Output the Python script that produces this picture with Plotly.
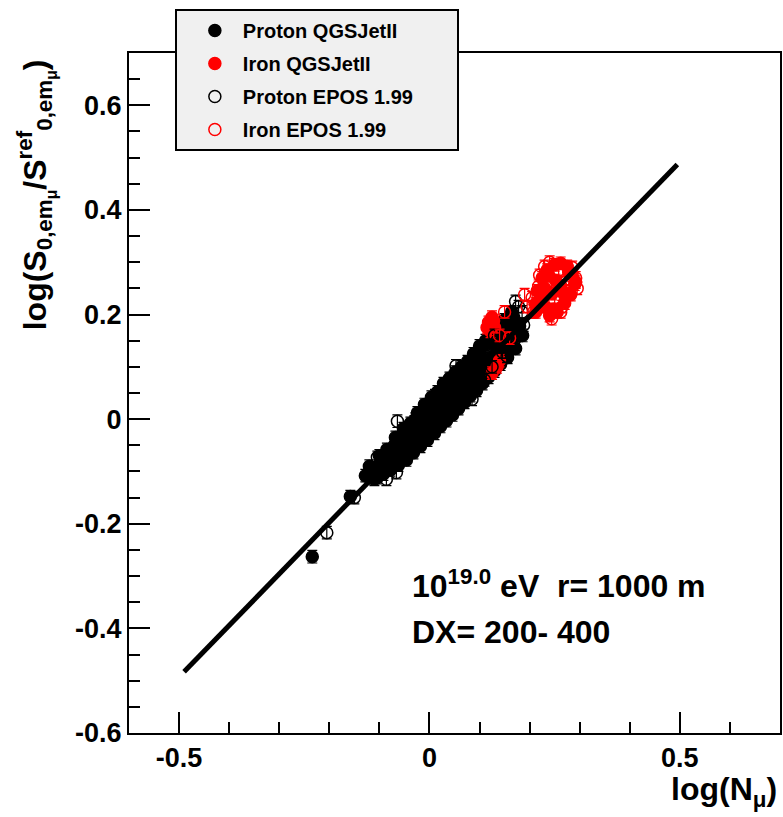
import plotly.graph_objects as go

# ---- data ----
p_qgs_x = [-0.234, -0.158, -0.128, -0.112, -0.104, -0.095, -0.088, -0.080, -0.074, -0.066,
           -0.060, -0.055, -0.048, -0.042, -0.036, -0.030, -0.025, -0.019, -0.013, -0.008,
           -0.003, 0.002, 0.006, 0.011, 0.015, 0.020, 0.024, 0.029, 0.034, 0.038,
           0.043, 0.048, 0.053, 0.058, 0.063, 0.068, 0.073, 0.078, 0.084, 0.089,
           0.095, 0.100, 0.106, 0.112, 0.118, 0.124, 0.131, 0.138, 0.145, 0.152,
           0.160, 0.168, 0.176, -0.070, -0.045, -0.020, 0.000, 0.018, 0.040, 0.060,
           0.082, 0.104, 0.126, 0.148, -0.010, 0.030, 0.070, 0.110,
           -0.120, -0.110, -0.100, -0.092, -0.085, -0.078, -0.068, -0.062, -0.052, -0.046,
           -0.038, -0.032, -0.024, -0.018, -0.010, -0.004, 0.004, 0.010, 0.016, 0.022,
           0.028, 0.034, 0.040, 0.046, 0.052, 0.058, 0.064, 0.070, 0.076, 0.082,
           0.088, 0.094, 0.100, 0.106, 0.112, 0.118, 0.124, 0.130, 0.136, 0.142,
           0.150, 0.156, 0.164, 0.172, 0.180, 0.186,
           -0.115, -0.105, -0.098, -0.090, -0.082, -0.072, -0.064, -0.056, -0.050, -0.040,
           -0.034, -0.027, -0.016, -0.006, 0.008, 0.013, 0.026, 0.036, 0.044, 0.055,
           0.066, 0.075, 0.086, 0.097, 0.108, 0.120, 0.133, 0.143, 0.158, 0.170]
p_qgs_y = [-0.263, -0.148, -0.108, -0.103, -0.112, -0.080, -0.095, -0.060, -0.085, -0.045,
           -0.075, -0.030, -0.062, -0.020, -0.050, -0.005, -0.040, 0.010, -0.030, 0.025,
           -0.020, 0.030, -0.012, 0.045, -0.005, 0.050, 0.005, 0.058, 0.015, 0.070,
           0.020, 0.080, 0.030, 0.085, 0.045, 0.098, 0.050, 0.108, 0.060, 0.118,
           0.070, 0.130, 0.082, 0.142, 0.095, 0.150, 0.110, 0.165, 0.118, 0.180,
           0.140, 0.195, 0.160, -0.055, -0.035, -0.015, 0.005, 0.020, 0.035, 0.060,
           0.075, 0.100, 0.120, 0.145, 0.000, 0.030, 0.070, 0.105,
           -0.090, -0.115, -0.070, -0.105, -0.058, -0.097, -0.035, -0.088, -0.018, -0.078,
           -0.008, -0.064, 0.012, -0.052, 0.028, -0.040, 0.042, -0.027, 0.052, -0.014,
           0.068, -0.003, 0.078, 0.008, 0.090, 0.020, 0.100, 0.032, 0.110, 0.045,
           0.125, 0.055, 0.140, 0.068, 0.150, 0.080, 0.160, 0.092, 0.175, 0.105,
           0.190, 0.118, 0.205, 0.135, 0.178, 0.160,
           -0.098, -0.104, -0.082, -0.075, -0.085, -0.062, -0.048, -0.070, -0.040, -0.025,
           -0.045, -0.018, -0.002, -0.025, 0.020, -0.008, 0.040, 0.028, 0.055, 0.045,
           0.075, 0.065, 0.095, 0.085, 0.115, 0.110, 0.140, 0.128, 0.165, 0.170]

fe_qgs_x = [0.215, 0.225, 0.235, 0.250, 0.262, 0.275, 0.285, 0.290, 0.282, 0.270,
            0.255, 0.240, 0.228, 0.245, 0.262, 0.230, 0.212,
            0.118, 0.125, 0.130, 0.122, 0.135, 0.125,
            0.222, 0.238, 0.268, 0.278, 0.252, 0.212, 0.248, 0.292,
            0.115, 0.128, 0.140]
fe_qgs_y = [0.245, 0.270, 0.285, 0.295, 0.298, 0.292, 0.275, 0.258, 0.238, 0.222,
            0.205, 0.198, 0.215, 0.240, 0.255, 0.250, 0.220,
            0.185, 0.195, 0.175, 0.168, 0.100, 0.088,
            0.230, 0.275, 0.240, 0.282, 0.265, 0.205, 0.210, 0.262,
            0.175, 0.188, 0.112]

p_epos_x = [-0.205, -0.150, -0.120, -0.104, -0.086, -0.066, -0.064, -0.050, -0.038, -0.028,
            -0.015, -0.005, 0.005, 0.016, 0.026, 0.035, 0.045, 0.053, 0.062, 0.072,
            0.085, 0.092, 0.102, 0.115, 0.125, 0.135, 0.146, 0.158, 0.168, 0.178,
            0.188, -0.095, -0.075, -0.040, 0.010, 0.050, 0.098, 0.140, 0.172,
            -0.110, -0.070, -0.020, 0.020, 0.060, 0.080, 0.110, 0.130, 0.155, 0.185, 0.165]
p_epos_y = [-0.217, -0.150, -0.112, -0.073, -0.115, -0.102, -0.004, -0.040, -0.055, 0.000,
            -0.025, 0.015, -0.010, 0.035, 0.005, 0.045, 0.020, 0.102, 0.040, 0.075,
            0.038, 0.100, 0.085, 0.125, 0.100, 0.150, 0.128, 0.165, 0.148, 0.215,
            0.180, -0.090, -0.068, -0.030, 0.010, 0.060, 0.095, 0.138, 0.225,
            -0.100, -0.050, -0.040, 0.050, 0.030, 0.100, 0.075, 0.160, 0.120, 0.205, 0.190]

fe_epos_x = [0.218, 0.292, 0.244, 0.205, 0.220, 0.240, 0.258, 0.272, 0.280, 0.265,
             0.250, 0.235, 0.208, 0.195, 0.150, 0.140, 0.160, 0.190,
             0.285, 0.230, 0.262, 0.225, 0.295]
fe_epos_y = [0.254, 0.270, 0.192, 0.232, 0.275, 0.300, 0.285, 0.262, 0.245, 0.215,
             0.228, 0.262, 0.205, 0.215, 0.205, 0.160, 0.155, 0.238,
             0.290, 0.292, 0.205, 0.222, 0.250]

y_err = 0.012

fit_x = [-0.49, 0.495]
fit_y = [-0.483, 0.487]

x_tickvals = [-0.5, 0, 0.5]
x_ticktext = ["-0.5", "0", "0.5"]
y_tickvals = [-0.6, -0.4, -0.2, 0, 0.2, 0.4, 0.6]
y_ticktext = ["-0.6", "-0.4", "-0.2", "0", "0.2", "0.4", "0.6"]

FONT = "Liberation Sans"
NB = "\u00a0"

fig = go.Figure()

def add_series(xs, ys, name, color, symbol, group):
    fig.add_trace(go.Scatter(
        x=xs, y=ys, mode="markers", name=name, legendgroup=group,
        marker=dict(color=color, symbol=symbol, size=12,
                    line=dict(color=color, width=1.5)),
        error_y=dict(type="constant", value=y_err, color=color,
                     thickness=1.2, width=5),
    ))

add_series(p_qgs_x, p_qgs_y, "Proton QGSJetII", "black", "circle", "a")
add_series(fe_qgs_x, fe_qgs_y, "Iron QGSJetII", "#ff0000", "circle", "b")
add_series(p_epos_x, p_epos_y, "Proton EPOS 1.99" + NB * 7, "black", "circle-open", "c")
add_series(fe_epos_x, fe_epos_y, "Iron EPOS 1.99", "#ff0000", "circle-open", "d")

fig.add_trace(go.Scatter(x=fit_x, y=fit_y, mode="lines",
                         line=dict(color="black", width=5),
                         showlegend=False, hoverinfo="skip"))

axis_common = dict(
    showline=True, linecolor="black", linewidth=2, mirror=True,
    ticks="inside", ticklen=21, tickwidth=2, tickcolor="black",
    showgrid=False, zeroline=False,
    tickfont=dict(family=FONT, size=27, color="black", weight="bold"),
)

fig.update_xaxes(range=[-0.6, 0.7], tickmode="array", tickvals=x_tickvals,
                 ticktext=x_ticktext,
                 minor=dict(ticks="inside", ticklen=11, tickwidth=2,
                            tickcolor="black", dtick=0.1, tick0=0, showgrid=False),
                 **axis_common)
fig.update_yaxes(range=[-0.6, 0.7], tickmode="array", tickvals=y_tickvals,
                 ticktext=y_ticktext,
                 minor=dict(ticks="inside", ticklen=11, tickwidth=2,
                            tickcolor="black", dtick=0.05, tick0=0, showgrid=False),
                 **axis_common)

W, H = 783, 817
L, R, T, B = 129, 1, 53, 84
pw, ph = W - L - R, H - T - B

def px_x(p):
    return (p - L) / pw

def px_y(p):
    return (H - B - p) / ph

fig.update_layout(
    width=W, height=H,
    margin=dict(l=L, r=R, t=T, b=B),
    paper_bgcolor="white", plot_bgcolor="white",
    showlegend=True,
    legend=dict(
        x=px_x(175), y=px_y(9), xanchor="left", yanchor="top",
        bgcolor="#f0f0f0", bordercolor="black", borderwidth=2,
        font=dict(family=FONT, size=20, color="black", weight="bold"),
        tracegroupgap=4, indentation=10, itemwidth=46,
    ),
    annotations=[
        dict(text="10<sup>19.0</sup> eV \u00a0r= 1000 m", xref="paper", yref="paper",
             x=px_x(411), y=px_y(584), xanchor="left", yanchor="middle",
             showarrow=False,
             font=dict(family=FONT, size=32, color="black", weight="bold")),
        dict(text="DX= 200- 400", xref="paper", yref="paper",
             x=px_x(411), y=px_y(632), xanchor="left", yanchor="middle",
             showarrow=False,
             font=dict(family=FONT, size=32, color="black", weight="bold")),
        dict(text="log(N<sub>\u03bc</sub>)", xref="paper", yref="paper",
             x=px_x(781), y=px_y(791), xanchor="right", yanchor="middle",
             showarrow=False,
             font=dict(family=FONT, size=32, color="black", weight="bold")),
        dict(text="log(S<sub>0,em<sub>\u03bc</sub></sub>/S<sup>ref</sup><sub>0,em<sub>\u03bc</sub></sub>)",
             xref="paper", yref="paper",
             x=px_x(36), y=px_y(195), xanchor="center", yanchor="middle",
             textangle=-90, showarrow=False,
             font=dict(family=FONT, size=32, color="black", weight="bold")),
    ],
)

fig.write_html("out.html")
